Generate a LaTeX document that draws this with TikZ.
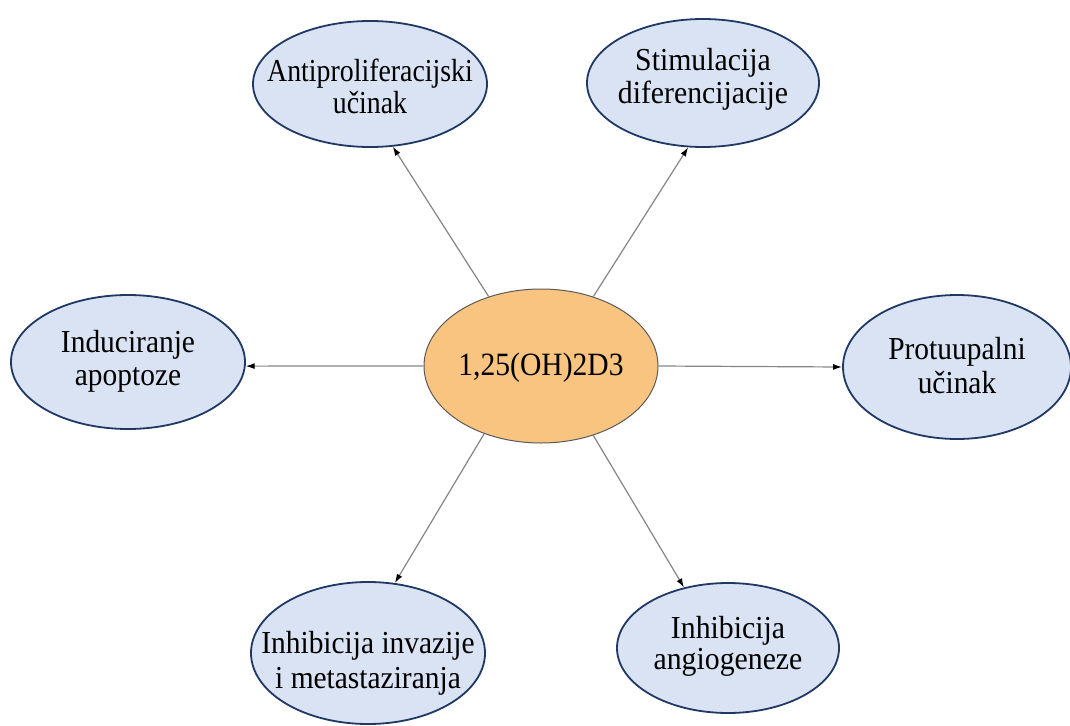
\documentclass[tikz,border=0pt]{standalone}
\usepackage{fontspec}
\setmainfont{Liberation Serif}
\usetikzlibrary{arrows.meta,shapes.geometric}
\definecolor{bluefill}{HTML}{DAE3F3}
\definecolor{blueline}{HTML}{1F3864}
\definecolor{orangefill}{HTML}{F9C480}
\definecolor{orangeline}{HTML}{5A5A5A}
\definecolor{arrowgray}{HTML}{858585}
% text block: last baseline placed #1 above the node centre
\newcommand{\elltext}[2]{\makebox[0pt]{\raisebox{#1}[0pt][0pt]{\begin{tabular}[b]{@{}c@{}}#2\end{tabular}}}}
\newcommand{\ellfont}[3]{\fontsize{#1}{#2}\selectfont\addfontfeatures{FakeStretch=#3}}
\begin{document}
\begin{tikzpicture}[x=1pt,y=-1pt,
  outer/.style={ellipse, draw=blueline, line width=1.8pt, fill=bluefill, inner sep=0pt},
  core/.style={ellipse, draw=orangeline, line width=1pt, fill=orangefill, inner sep=0pt},
  conn/.style={draw=arrowgray, line width=1.2pt, -{Latex[length=9pt,width=6pt,color=black]}}
]
\useasboundingbox (0,0) rectangle (1070,725);

\node[core, minimum width=234pt, minimum height=154pt, font=\ellfont{32.5}{33}{0.91}] (c) at (541,366) {\elltext{-9pt}{1,25(OH)2D3}};

\node[outer, minimum width=234pt, minimum height=126pt, font=\ellfont{32}{31}{0.87}] (tl) at (370,84) {\elltext{-29pt}{Antiproliferacijski\\učinak}};
\node[outer, minimum width=232pt, minimum height=128pt, font=\ellfont{32}{33}{0.93}] (tr) at (703,83) {\elltext{-20pt}{Stimulacija\\diferencijacije}};
\node[outer, minimum width=234pt, minimum height=134pt, font=\ellfont{32}{33}{0.92}] (l) at (128,362) {\elltext{-23pt}{Induciranje\\apoptoze}};
\node[outer, minimum width=228pt, minimum height=144pt, font=\ellfont{32}{34}{0.92}] (r) at (957,367) {\elltext{-26.5pt}{Protuupalni\\učinak}};
\node[outer, minimum width=234pt, minimum height=142pt, font=\ellfont{32}{35}{0.92}] (bl) at (368,653) {\elltext{-35pt}{Inhibicija invazije\\i metastaziranja}};
\node[outer, minimum width=222pt, minimum height=130pt, font=\ellfont{32}{31}{0.93}] (br) at (728,648) {\elltext{-21pt}{Inhibicija\\angiogeneze}};

\draw[conn] (c.127) -- (tl.290);
\draw[conn] (c.53) -- (tr.257);
\draw[conn] (c.180) -- (l.358);
\draw[conn] (c.0) -- (r.180);
\draw[conn] (c.230) -- (bl.69);
\draw[conn] (c.307) -- (br.126);
\end{tikzpicture}
\end{document}
